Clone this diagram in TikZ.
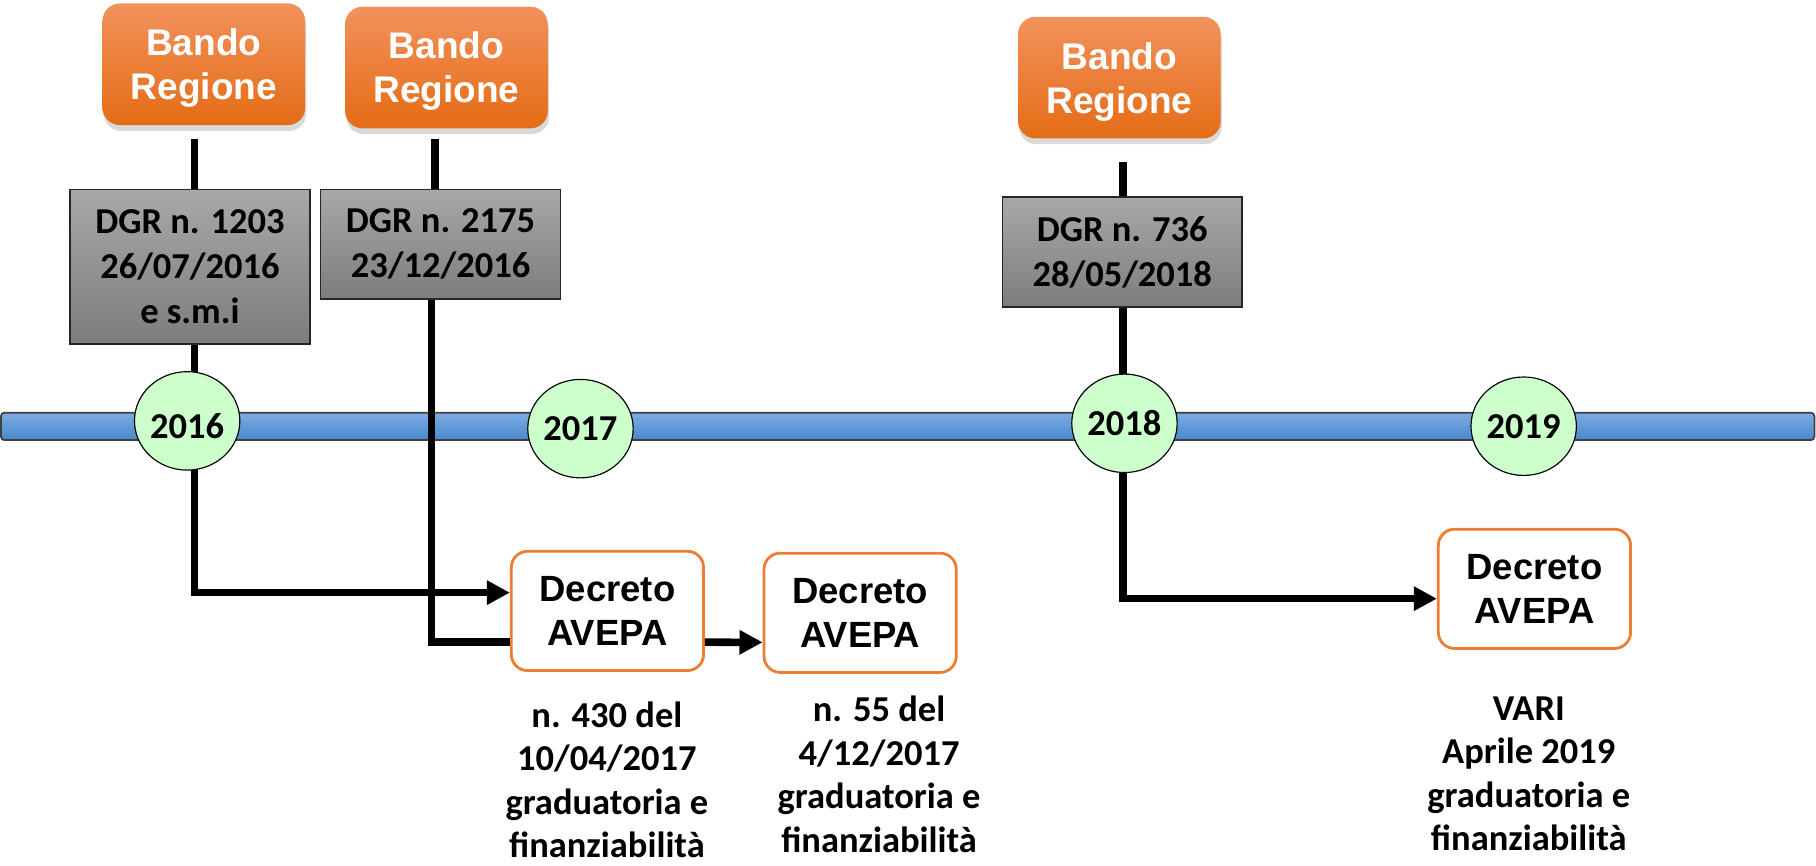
\documentclass[tikz,border=0pt]{standalone}
\usepackage{fontspec}
\setmainfont{Liberation Sans}
\newfontfamily\calfont{Carlito}
\usetikzlibrary{arrows.meta,shadows,shapes.geometric,calc}
\definecolor{orTop}{RGB}{242,146,92}
\definecolor{orBot}{RGB}{228,108,22}
\definecolor{orLine}{RGB}{237,125,49}
\definecolor{grTop}{RGB}{168,168,168}
\definecolor{grBot}{RGB}{125,125,125}
\definecolor{blTop}{RGB}{125,172,226}
\definecolor{blBot}{RGB}{72,136,205}
\definecolor{yrFill}{RGB}{204,255,204}
\begin{document}
\begin{tikzpicture}[x=1pt,y=-1pt,
  bando/.style={rectangle, rounded corners=15pt, top color=orTop, bottom color=orBot, minimum width=175pt, minimum height=105pt, inner sep=0pt, text=white, align=center, text depth=-2pt, font=\bfseries\fontsize{32}{38}\selectfont, drop shadow={opacity=0.3, shadow xshift=1pt, shadow yshift=-5pt}},
  dgr/.style={rectangle, draw=black!85, line width=1.3pt, top color=grTop, bottom color=grBot, minimum width=207pt, inner sep=0pt, align=center, font=\calfont\bfseries\fontsize{31.5}{38.8}\selectfont},
  decreto/.style={rectangle, rounded corners=14pt, draw=orLine, line width=2.4pt, fill=white, minimum width=166pt, minimum height=103pt, inner sep=0pt, align=center, font=\bfseries\fontsize{31.5}{37.5}\selectfont},
  year/.style={ellipse, draw=black, line width=1pt, fill=yrFill, minimum width=91pt, minimum height=85pt, inner sep=0pt, font=\calfont\bfseries\fontsize{31.5}{36}\selectfont},
  caption/.style={align=center, inner sep=0pt, font=\calfont\bfseries\fontsize{31.5}{37.5}\selectfont},
  conn/.style={line width=6.5pt, draw=black},
  arr/.style={conn, -{Triangle[length=20pt,width=20pt]}}
]
\useasboundingbox (0,0) rectangle (1568,747);

% timeline bar
\path[draw=black!75, line width=1.5pt, top color=blTop, bottom color=blBot, rounded corners=3pt] (0.8,356.3) rectangle (1566.6,380);

% boxes
\node[bando] (b1) at (176,55.5) {Bando\\Regione};
\node[bando] (b2) at (385.5,58.3) {Bando\\Regione};
\node[bando] (b3) at (966.5,67) {Bando\\Regione};

\node[dgr, minimum height=133.5pt] (d1) at (164,230.3) {DGR n. 1203\\26/07/2016\\e s.m.i};
\node[dgr, minimum height=94.5pt] (d2) at (380.4,210.8) {DGR n. 2175\\23/12/2016};
\node[dgr, minimum height=95pt] (d3) at (969,217.7) {DGR n. 736\\28/05/2018};

\node[decreto] (a1) at (524.5,527.5) {Decreto\\AVEPA};
\node[decreto] (a2) at (742.7,529.1) {Decreto\\AVEPA};
\node[decreto] (a3) at (1324.9,508.4) {Decreto\\AVEPA};

\node[caption] (t1) at (524,673.2) {n. 430 del\\10/04/2017\\graduatoria e\\finanziabilità};
\node[caption] (t2) at (759,668.7) {n. 55 del\\4/12/2017\\graduatoria e\\finanziabilità};
\node[caption] (t3) at (1320,668) {VARI\\Aprile 2019\\graduatoria e\\finanziabilità};

% connector x positions
\coordinate (X1) at (168,0);
\coordinate (X2t) at (375.6,0);
\coordinate (X2) at (372.5,0);
\coordinate (X3) at (969.5,0);

\draw[conn] ($(b1.south -| X1)+(0,11.5)$) -- (d1.north -| X1);
\draw[conn] ($(b2.south -| X2t)+(0,8.6)$) -- (d2.north -| X2t);
\draw[conn] ($(b3.south -| X3)+(0,20)$) -- (d3.north -| X3);
\draw[arr] (d1.south -| X1) |- ($(a1.west)+(0,-15.8)$);
\draw[conn] (d2.south -| X2) |- ($(a1.west)+(0,27)$);
\draw[arr] ($(a1.east)+(0,27)$) -- ($(a2.west)+(0,25.5)$);
\draw[arr] (d3.south -| X3) |- ($(a3.west)+(0,8.5)$);

% year circles
\node[year, text height=30pt, text depth=0pt] (c16) at (161.6,363.4) {2016};
\node[year] (c17) at (501.2,370.1) {2017};
\node[year] (c18) at (970.9,365.5) {2018};
\node[year] (c19) at (1315.6,368) {2019};
\end{tikzpicture}
\end{document}
